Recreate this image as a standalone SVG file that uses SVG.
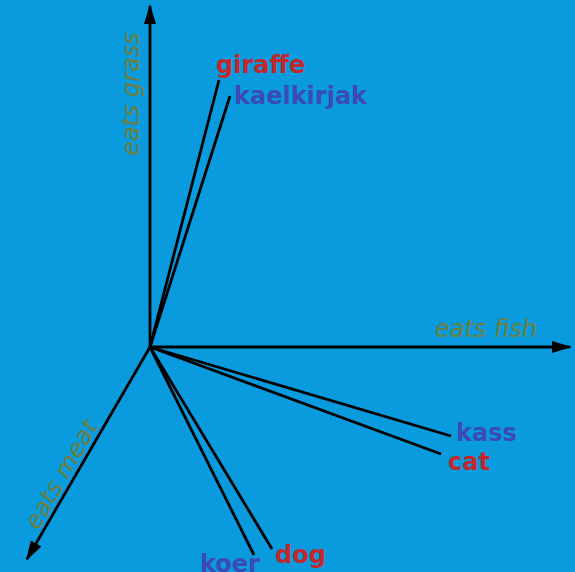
<svg xmlns="http://www.w3.org/2000/svg" width="575" height="572" viewBox="0 0 575 572">
  <style>
    .axis { stroke: #000; stroke-width: 2.8; fill: none; }
    .vec { stroke: #000; stroke-width: 2.8; fill: none; }
    .alabel { font-family: "DejaVu Sans", sans-serif; font-style: italic; font-size: 24px; fill: #6b7f3e; }
    .en { font-family: "DejaVu Sans", sans-serif; font-weight: bold; font-size: 24px; fill: #c0282c; }
    .et { font-family: "DejaVu Sans", sans-serif; font-weight: bold; font-size: 24px; fill: #3a4cb4; }
  </style>
  <defs>
    <marker id="arrow" viewBox="0 0 20 12" refX="18" refY="6" markerWidth="20" markerHeight="12" markerUnits="userSpaceOnUse" orient="auto">
      <path d="M0,0 L20,6 L0,12 Z" fill="#000"/>
    </marker>
  </defs>
  <rect width="575" height="572" fill="#0a9ade"/>

  <g id="axes">
    <line class="axis" x1="150" y1="347" x2="150" y2="6" marker-end="url(#arrow)"/>
    <line class="axis" x1="150" y1="347" x2="570" y2="347" marker-end="url(#arrow)"/>
    <line class="axis" x1="150" y1="347" x2="27" y2="559" marker-end="url(#arrow)"/>
  </g>

  <g id="connectors">
    <line class="vec" x1="150" y1="347" x2="219" y2="80"/>
    <line class="vec" x1="150" y1="347" x2="230" y2="96"/>
    <line class="vec" x1="150" y1="347" x2="451" y2="436"/>
    <line class="vec" x1="150" y1="347" x2="441" y2="454"/>
    <line class="vec" x1="150" y1="347" x2="254" y2="555"/>
    <line class="vec" x1="150" y1="347" x2="272" y2="549"/>
  </g>

  <g id="axis-grass"><text class="alabel" transform="translate(139,156) rotate(-90)">eats grass</text></g>
  <g id="axis-fish"><text class="alabel" x="435" y="337">eats fish</text></g>
  <g id="axis-meat"><text class="alabel" transform="translate(38,531) rotate(-60)">eats meat</text></g>

  <g id="giraffe"><text class="en" x="216" y="73">giraffe</text></g>
  <g id="kaelkirjak"><text class="et" x="234" y="104">kaelkirjak</text></g>
  <g id="kass"><text class="et" x="456" y="441">kass</text></g>
  <g id="cat"><text class="en" x="448" y="470">cat</text></g>
  <g id="koer"><text class="et" x="200" y="572">koer</text></g>
  <g id="dog"><text class="en" x="275" y="563">dog</text></g>
</svg>
